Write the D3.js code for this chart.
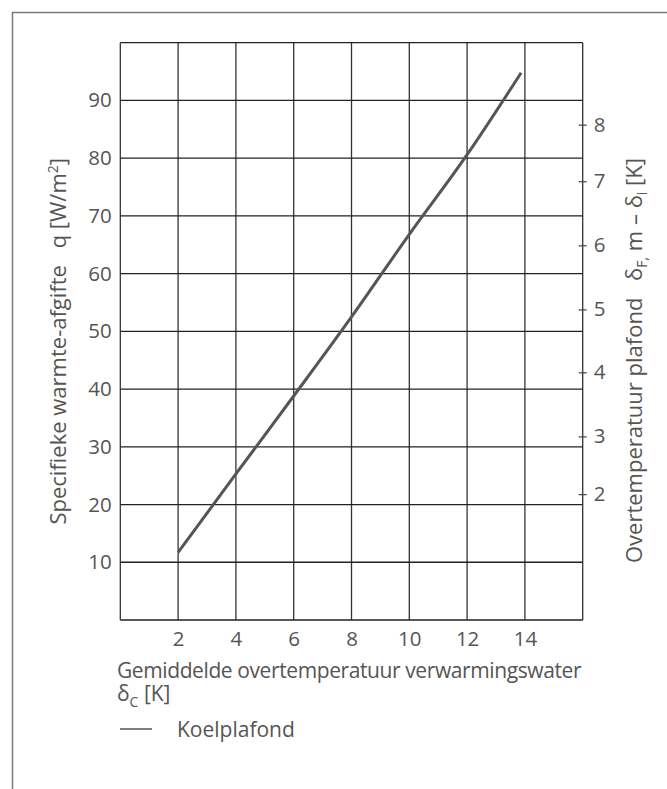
<!DOCTYPE html>
<html>
<head>
<meta charset="utf-8">
<script src="https://cdn.jsdelivr.net/npm/d3@7"></script>
<style>
  html, body { margin: 0; padding: 0; background: #fff; }
  svg text { font-family: "Open Sans", "Noto Sans", sans-serif; fill: #555; }
</style>
</head>
<body>
<svg id="chart" width="667" height="789"></svg>
<script>
// Mean water overtemperature δC [K] against specific heat output q [W/m²]
const deltaC = [2, 4, 6, 8, 10, 12, 13.87];
const heatOutput = [11.7, 25.3, 38.8, 52.5, 66.8, 80.6, 94.8];

// Axis ticks
const xTicks = [2, 4, 6, 8, 10, 12, 14];
const yTicks = [10, 20, 30, 40, 50, 60, 70, 80, 90];
// Ceiling overtemperature labels and the heat output they sit at
const ceilingLabels = [2, 3, 4, 5, 6, 7, 8];
const ceilingAtQ = [21.8, 31.8, 42.9, 53.8, 64.9, 76.0, 85.8];

const seriesName = "Koelplafond";

const svg = d3.select("#chart");
const margin = { left: 120.3, top: 42.7, right: 667 - 582.7, bottom: 789 - 620 };
const W = 667 - margin.left - margin.right;
const H = 789 - margin.top - margin.bottom;

const x = d3.scaleLinear().domain([0, 16]).range([0, W]);
const y = d3.scaleLinear().domain([0, 100]).range([H, 0]);

const tickFont = 20.5;
const titleFont = 21;
const sideTitleFont = 22;
const subFont = 14;

// Outer frame
svg.append("rect")
  .attr("x", 12.5).attr("y", 12.5)
  .attr("width", 700).attr("height", 800)
  .attr("fill", "none").attr("stroke", "#7a7a7a").attr("stroke-width", 1.5);

const g = svg.append("g").attr("transform", `translate(${margin.left},${margin.top})`);

// Grid
g.append("g").selectAll("line").data(d3.range(0, 17, 2)).join("line")
  .attr("x1", d => x(d)).attr("x2", d => x(d))
  .attr("y1", 0).attr("y2", H)
  .attr("stroke", "#333").attr("stroke-width", 1.3);
g.append("g").selectAll("line").data(d3.range(0, 101, 10)).join("line")
  .attr("x1", 0).attr("x2", W)
  .attr("y1", d => y(d)).attr("y2", d => y(d))
  .attr("stroke", "#222").attr("stroke-width", 1.3);

// Bottom axis labels
const xAxis = g.append("g").attr("transform", `translate(0,${H})`)
  .call(d3.axisBottom(x).tickValues(xTicks).tickSize(0).tickPadding(11));
xAxis.select(".domain").remove();
xAxis.selectAll("text").attr("font-size", tickFont).style("fill", "#555");

// Left axis labels
const yAxis = g.append("g")
  .call(d3.axisLeft(y).tickValues(yTicks).tickSize(0).tickPadding(8.5));
yAxis.select(".domain").remove();
yAxis.selectAll("text").attr("font-size", tickFont).style("fill", "#555");

// Right axis: ceiling overtemperature
const rAxis = g.append("g").attr("transform", `translate(${W},0)`)
  .call(d3.axisRight(y).tickValues(ceilingAtQ)
    .tickFormat((d, i) => ceilingLabels[i]).tickSizeInner(4).tickPadding(7));
rAxis.select(".domain").remove();
rAxis.selectAll(".tick line").attr("x1", -4).attr("stroke", "#444").attr("stroke-width", 1.2);
rAxis.selectAll("text").attr("font-size", tickFont).style("fill", "#555");

// Series line
const line = d3.line().x((d, i) => x(deltaC[i])).y(d => y(d)).curve(d3.curveMonotoneX);
g.append("path").datum(heatOutput)
  .attr("d", line)
  .attr("fill", "none").attr("stroke", "#555").attr("stroke-width", 3);

// Left title (reads bottom to top, ends level with the 80 line)
const lt = svg.append("text")
  .attr("transform", `translate(66,158) rotate(-90)`)
  .attr("text-anchor", "end").attr("font-size", sideTitleFont);
lt.append("tspan").text("Specifieke warmte-afgifte\u2002 q [W/m");
lt.append("tspan").attr("font-size", subFont).attr("dy", -8).text("2");
lt.append("tspan").attr("dy", 8).text("]");

// Right title
const rt = svg.append("text")
  .attr("transform", `translate(642,158) rotate(-90)`)
  .attr("text-anchor", "end").attr("font-size", sideTitleFont);
rt.append("tspan").text("Overtemperatuur plafond\u2002 δ");
rt.append("tspan").attr("font-size", subFont).attr("dy", 5).text("F,");
rt.append("tspan").attr("dy", -5).text(" m – δ");
rt.append("tspan").attr("font-size", subFont).attr("dy", 5).text("i");
rt.append("tspan").attr("dy", -5).text(" [K]");

// Bottom title, two lines in one text element
const bt = svg.append("text").attr("x", 117).attr("y", 678).attr("font-size", titleFont);
bt.append("tspan").attr("x", 117).attr("letter-spacing", -0.4)
  .text("Gemiddelde overtemperatuur verwarmingswater");
bt.append("tspan").attr("x", 117).attr("dy", 23).text("δ");
bt.append("tspan").attr("font-size", subFont).attr("dy", 6).text("C");
bt.append("tspan").attr("dy", -6).text(" [K]");

// Legend
svg.append("line").attr("x1", 120).attr("x2", 152).attr("y1", 729).attr("y2", 729)
  .attr("stroke", "#555").attr("stroke-width", 1.5);
svg.append("text").attr("x", 177).attr("y", 737).attr("font-size", titleFont).text(seriesName);
</script>
</body>
</html>
